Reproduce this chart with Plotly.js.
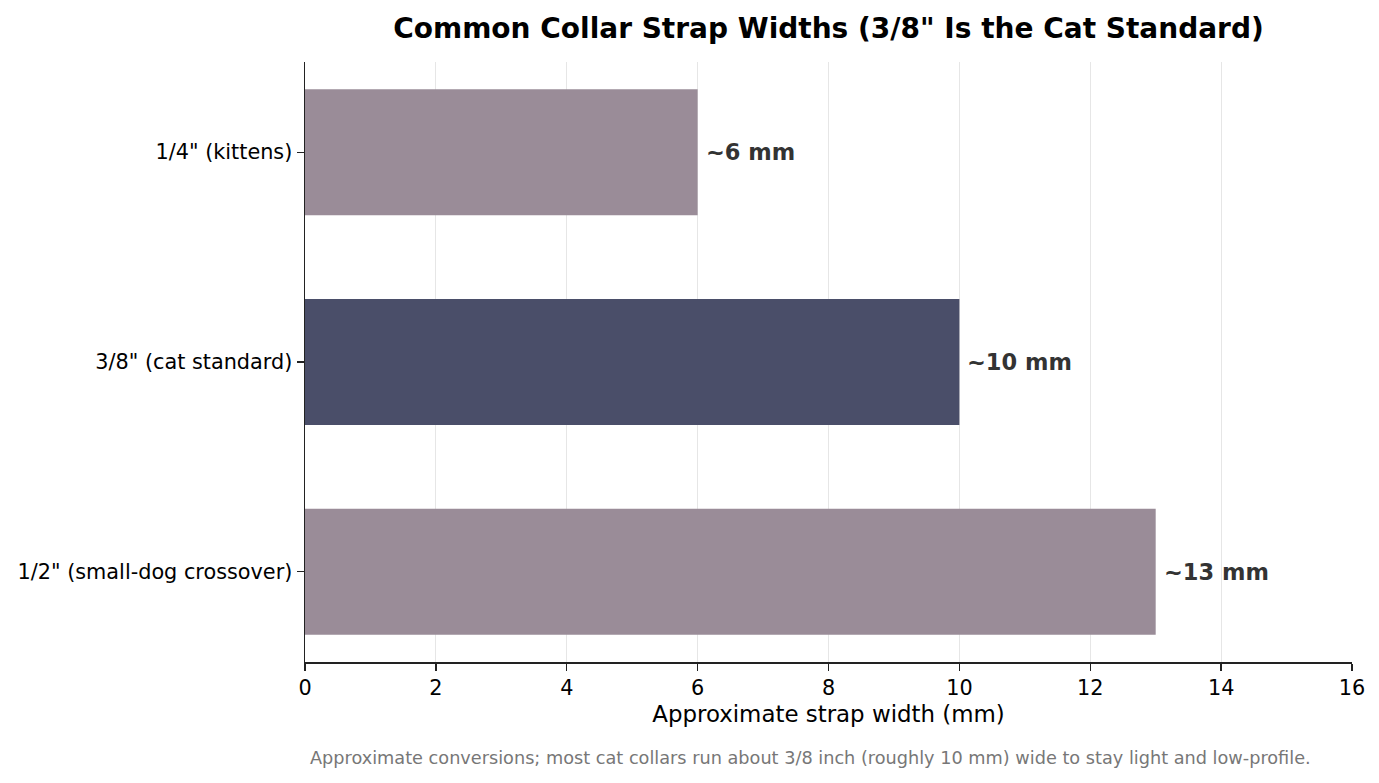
<!DOCTYPE html>
<html>
<head>
<meta charset="utf-8">
<script src="https://cdn.plot.ly/plotly-3.0.1.min.js"></script>
<style>
  html, body { margin: 0; padding: 0; background: #fff; }
  #chart { width: 1379px; height: 783px; }
</style>
</head>
<body>
<div id="chart"></div>
<script>
const categories = ['1/4" (kittens)', '3/8" (cat standard)', '1/2" (small-dog crossover)'];
const widthsMm = [6, 10, 13];
const barLabels = ['~6 mm', '~10 mm', '~13 mm'];
const barColors = ['#9a8c98', '#4a4e69', '#9a8c98'];
const xTicks = [0, 2, 4, 6, 8, 10, 12, 14, 16];

const font = 'DejaVu Sans, sans-serif';

const trace = {
    type: 'bar',
    orientation: 'h',
    x: widthsMm,
    y: categories,
    width: 0.6,
    marker: { color: barColors, line: { width: 0 } },
    hoverinfo: 'x+y'
};

// value labels just past the end of each bar
const labelNotes = categories.map((c, i) => ({
    x: widthsMm[i], y: c, xref: 'x', yref: 'y',
    text: '<b>' + barLabels[i] + '</b>',
    showarrow: false, xanchor: 'left', xshift: 6,
    font: { family: font, size: 22.5, color: '#333333' }
}));

const layout = {
    width: 1379, height: 783,
    margin: { l: 305, r: 27, t: 62, b: 121 },
    paper_bgcolor: '#ffffff',
    plot_bgcolor: '#ffffff',
    font: { family: font, color: '#000000' },
    showlegend: false,
    bargap: 0.4,
    title: {
        text: '<b>Common Collar Strap Widths (3/8" Is the Cat Standard)</b>',
        font: { family: font, size: 28, color: '#000000' },
        x: 0.5, xref: 'paper', xanchor: 'center',
        y: 0.964, yref: 'container', yanchor: 'middle'
    },
    xaxis: {
        range: [0, 16],
        tickvals: xTicks,
        ticks: 'outside', ticklen: 7, tickwidth: 1.3, tickcolor: '#222',
        showline: true, linecolor: '#222', linewidth: 1.5,
        showgrid: true, gridcolor: '#e6e6e6', gridwidth: 1.2,
        zeroline: false,
        tickfont: { family: font, size: 20.8, color: '#000' },
        title: { text: 'Approximate strap width (mm)', font: { family: font, size: 22.9, color: '#000' }, standoff: 6 }
    },
    yaxis: {
        type: 'category',
        autorange: false,
        range: [2.43, -0.43],
        ticks: 'outside', ticklen: 7, tickwidth: 1.3, tickcolor: '#222',
        showline: true, linecolor: '#222', linewidth: 1.5,
        showgrid: false, zeroline: false,
        tickfont: { family: font, size: 20.8, color: '#000' }
    },
    annotations: labelNotes.concat([{
        xref: 'paper', yref: 'paper', x: 0.483, y: -0.16,
        xanchor: 'center', yanchor: 'middle', showarrow: false,
        text: 'Approximate conversions; most cat collars run about 3/8 inch (roughly 10 mm) wide to stay light and low-profile.',
        font: { family: font, size: 17.7, color: '#777777' }
    }])
};

Plotly.newPlot('chart', [trace], layout, { displayModeBar: false, staticPlot: true });
</script>
</body>
</html>
